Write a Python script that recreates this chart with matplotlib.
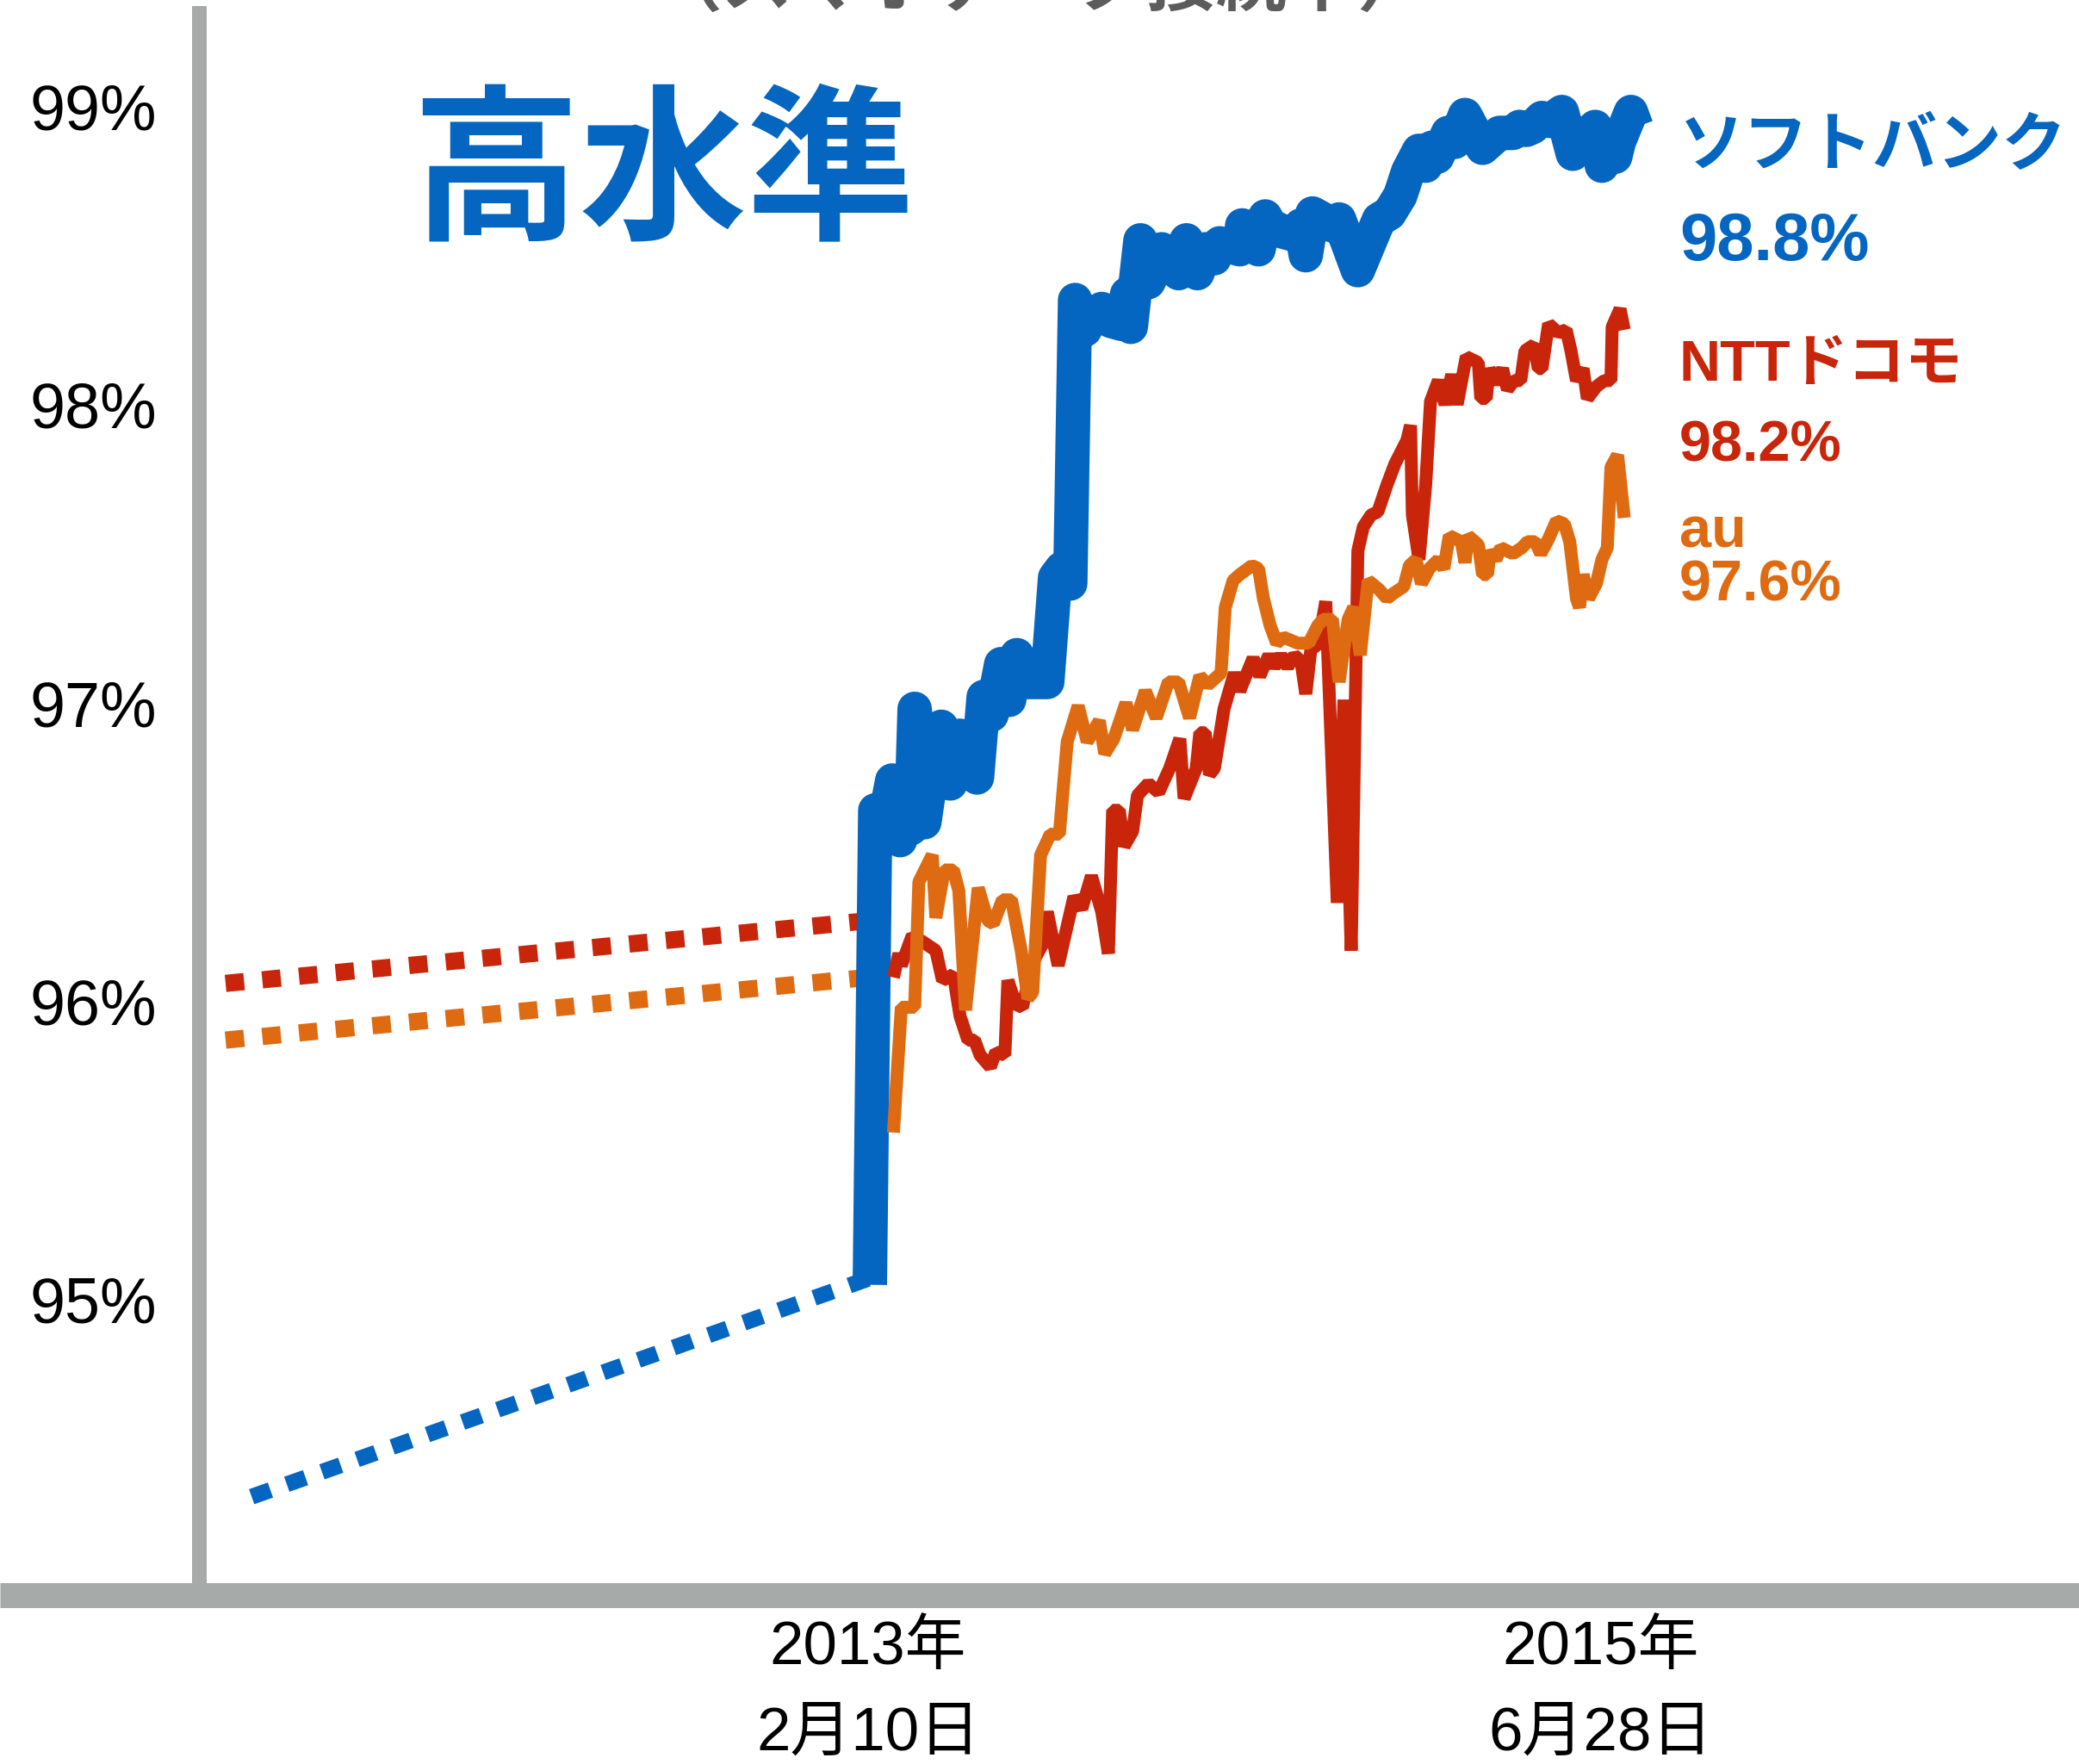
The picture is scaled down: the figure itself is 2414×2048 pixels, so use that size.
import matplotlib
matplotlib.use('Agg')
import matplotlib.pyplot as plt
import matplotlib.transforms as mtransforms
from matplotlib.lines import Line2D

# 週 (2013年2月10日 = 0) とデータ接続率 (%)
sb_w = [0.3, 1.2, 2.5, 4.0, 5.3, 6.6, 7.1, 7.7, 9.3, 10.6, 12.1, 13.6, 15.2, 16.7, 18.0,
        19.1, 20.4, 22.0, 23.3, 24.6, 25.7, 29.6, 30.9, 32.0, 33.4, 34.2, 35.8, 37.1, 38.6,
        40.1, 41.9, 42.8, 43.4, 45.0, 46.3, 47.8, 48.5, 51.3, 51.8, 52.6, 54.4, 55.7, 57.2,
        58.1, 61.4, 61.8, 63.6, 64.5, 65.6, 66.4, 68.4, 70.2, 71.5, 72.3, 73.4, 75.2, 76.7,
        77.8, 80.9, 84.4, 86.1, 87.9, 89.2, 91.0, 92.1, 93.1, 94.0, 95.8, 96.9, 98.6, 101.5,
        104.3, 106.5, 107.6, 108.7, 109.8, 111.3, 112.6, 114.6, 116.4, 117.5, 118.5, 119.4,
        120.1, 121.2, 122.1, 123.4, 124.0, 126.0, 126.9]
sb_v = [95.05, 96.64, 96.58, 96.74, 96.54, 96.72, 96.58, 96.98, 96.60, 96.78, 96.92, 96.73,
        96.89, 96.86, 96.75, 97.02, 96.96, 97.13, 97.01, 97.16, 97.07, 97.07, 97.42, 97.45,
        97.40, 98.35, 98.25, 98.30, 98.32, 98.28, 98.27, 98.37, 98.26, 98.55, 98.41, 98.47,
        98.52, 98.44, 98.49, 98.55, 98.44, 98.52, 98.49, 98.54, 98.52, 98.60, 98.56, 98.52,
        98.63, 98.60, 98.58, 98.57, 98.60, 98.50, 98.64, 98.62, 98.60, 98.62, 98.45, 98.62,
        98.64, 98.70, 98.78, 98.85, 98.80, 98.86, 98.83, 98.91, 98.88, 98.97, 98.86, 98.91,
        98.91, 98.93, 98.92, 98.93, 98.96, 98.95, 98.98, 98.84, 98.88, 98.91, 98.89, 98.93,
        98.80, 98.86, 98.83, 98.88, 98.98, 98.93]

docomo_w = [4.2, 5.1, 5.5, 7.3, 9.0, 11.2, 12.3, 14.1, 15.2, 16.5, 17.6, 18.5, 20.2, 21.1,
            22.6, 23.1, 24.4, 25.5, 27.2, 28.8, 29.6, 31.4, 34.0, 35.3, 36.9, 38.6, 39.7,
            40.4, 41.5, 42.3, 43.7, 44.5, 46.3, 48.0, 49.8, 51.5, 52.2, 54.2, 54.8, 55.7,
            56.4, 57.2, 58.8, 60.5, 61.4, 63.6, 64.7, 66.2, 67.1, 68.2, 69.3, 70.4, 71.5,
            72.3, 73.2, 74.3, 75.6, 77.5, 78.6, 79.8, 80.9, 81.8, 83.1, 84.2, 85.7, 87.0,
            89.0, 89.6, 89.9, 91.0, 92.1, 92.9, 94.2, 95.3, 96.4, 97.3, 98.8, 100.8, 101.2,
            102.1, 102.6, 103.7, 104.8, 105.6, 106.7, 107.8, 108.5, 110.0, 110.7, 111.3,
            112.4, 114.0, 115.3, 116.1, 117.0, 118.1, 118.8, 120.3, 121.6, 122.7, 122.9,
            124.2, 124.9]
docomo_v = [96.08, 96.16, 96.12, 96.22, 96.20, 96.17, 96.07, 96.09, 95.95, 95.87, 95.87,
            95.82, 95.78, 95.83, 95.82, 96.07, 95.99, 95.98, 96.13, 96.19, 96.30, 96.12,
            96.35, 96.31, 96.42, 96.30, 96.16, 96.64, 96.64, 96.52, 96.57, 96.69, 96.73,
            96.70, 96.78, 96.88, 96.68, 96.78, 96.90, 96.90, 96.76, 96.78, 96.98, 97.10,
            97.04, 97.15, 97.09, 97.16, 97.12, 97.16, 97.12, 97.16, 97.14, 97.03, 97.19,
            97.19, 97.34, 96.33, 97.01, 96.17, 97.51, 97.59, 97.63, 97.64, 97.73, 97.80,
            97.88, 97.93, 97.63, 97.48, 97.73, 98.01, 98.08, 98.00, 98.10, 98.00, 98.16,
            98.14, 98.02, 98.02, 98.12, 98.07, 98.12, 98.05, 98.08, 98.08, 98.18, 98.20,
            98.12, 98.12, 98.27, 98.24, 98.25, 98.18, 98.08, 98.12, 98.02, 98.06, 98.08,
            98.08, 98.26, 98.32, 98.25]

au_w = [4.2, 5.5, 7.7, 8.4, 10.6, 11.2, 12.6, 14.1, 15.0, 16.1, 18.2, 19.8, 20.7, 22.2,
        23.7, 25.3, 26.4, 27.2, 28.5, 30.1, 31.6, 32.9, 34.7, 36.2, 38.2, 39.1, 40.6, 42.6,
        43.7, 45.8, 47.6, 49.6, 51.3, 53.1, 54.8, 56.1, 58.3, 59.0, 60.3, 61.4, 63.4, 64.5,
        65.3, 66.4, 67.5, 68.6, 71.0, 72.8, 74.3, 75.2, 76.7, 77.8, 79.3, 80.2, 81.3, 82.6,
        84.4, 85.7, 87.0, 88.5, 89.4, 90.5, 91.4, 92.7, 94.2, 95.1, 96.0, 98.0, 98.6, 99.1,
        100.8, 101.5, 102.3, 102.8, 103.7, 104.5, 106.5, 108.0, 108.9, 110.2, 111.1, 112.4,
        113.7, 115.0, 115.9, 117.0, 117.5, 118.1, 119.0, 120.3, 121.2, 122.1, 122.7, 123.8,
        124.9]
au_v = [95.56, 95.98, 95.98, 96.40, 96.49, 96.28, 96.44, 96.44, 96.37, 95.97, 96.38, 96.27,
        96.26, 96.34, 96.34, 96.17, 96.01, 96.03, 96.49, 96.56, 96.56, 96.87, 96.99, 96.87,
        96.94, 96.83, 96.88, 97.00, 96.91, 97.04, 96.95, 97.07, 97.07, 96.95, 97.09, 97.06,
        97.10, 97.32, 97.41, 97.43, 97.46, 97.45, 97.35, 97.26, 97.20, 97.22, 97.20, 97.20,
        97.26, 97.28, 97.28, 97.07, 97.28, 97.32, 97.16, 97.41, 97.38, 97.35, 97.37, 97.39,
        97.46, 97.48, 97.40, 97.45, 97.48, 97.45, 97.56, 97.54, 97.47, 97.56, 97.53, 97.43,
        97.43, 97.51, 97.48, 97.52, 97.50, 97.52, 97.54, 97.54, 97.50, 97.55, 97.61, 97.60,
        97.54, 97.35, 97.32, 97.43, 97.35, 97.40, 97.48, 97.52, 97.79, 97.83, 97.62]

# 点線 (それ以前の値)
sb_prev_w = [-101.8, 0.0]
sb_prev_v = [94.34, 95.07]
docomo_prev_w = [-106.1, 0.0]
docomo_prev_v = [96.06, 96.27]
au_prev_w = [-106.1, 0.0]
au_prev_v = [95.87, 96.08]

y_ticks = [95, 96, 97, 98, 99]
y_labels = ['95%', '96%', '97%', '98%', '99%']
x_ticks = [0, 121]
x_labels_1 = ['2013年', '2015年']
x_labels_2 = ['2月10日', '6月28日']

BLUE = '#0466c0'
RED = '#c8250a'
ORANGE = '#de6b12'
AXIS_GRAY = '#a6aaa9'
TEXT_GRAY = '#5c5c5c'

W, H = 2414, 2048
DPI = 100
LATIN_CJK = ['Liberation Sans', 'Noto Sans CJK JP']


def pt(px):
    # ピクセル -> ポイント
    return px * 72 / DPI


fig = plt.figure(figsize=(W / DPI, H / DPI), dpi=DPI)
fig.patch.set_facecolor('white')

ax = fig.add_axes([231 / W, 1 - 1852 / H, 1 - 231 / W, (1852 - 15) / H])
ax.set_xlim(-110.5, 200)
ax.set_ylim(94.01, 99.312)
ax.set_facecolor('none')

# 点線
ax.plot(sb_prev_w, sb_prev_v, color=BLUE, lw=pt(18.5),
        linestyle=(0, (1.25, 1.09)), dash_capstyle='butt')
ax.plot(docomo_prev_w, docomo_prev_v, color=RED, lw=pt(20),
        linestyle=(0, (1.08, 1.06)), dash_capstyle='butt')
ax.plot(au_prev_w, au_prev_v, color=ORANGE, lw=pt(20),
        linestyle=(0, (1.08, 1.06)), dash_capstyle='butt')

# 実線
ax.plot(sb_w, sb_v, color=BLUE, lw=pt(40), solid_joinstyle='round',
        solid_capstyle='butt')
ax.plot(docomo_w, docomo_v, color=RED, lw=pt(15), solid_joinstyle='bevel',
        solid_capstyle='butt')
ax.plot(au_w, au_v, color=ORANGE, lw=pt(15), solid_joinstyle='bevel',
        solid_capstyle='butt')

# 軸
for side in ['top', 'right', 'bottom']:
    ax.spines[side].set_visible(False)
ax.spines['left'].set_color(AXIS_GRAY)
ax.spines['left'].set_linewidth(pt(17))
ax.set_yticks(y_ticks)
ax.set_yticklabels(y_labels, fontsize=53, family='Liberation Sans', color='black')
ax.tick_params(axis='y', length=0, pad=pt(49))
ax.set_xticks([])

fig.add_artist(Line2D([0, 1], [1 - 1852 / H, 1 - 1852 / H], transform=fig.transFigure,
                      color=AXIS_GRAY, lw=pt(29), solid_capstyle='butt'))

trans = mtransforms.blended_transform_factory(ax.transData, fig.transFigure)
for x, l1, l2 in zip(x_ticks, x_labels_1, x_labels_2):
    ax.text(x, 1 - 1914 / H, l1, transform=trans, ha='center', va='center',
            fontsize=51, family=LATIN_CJK, color='black')
    ax.text(x, 1 - 2014 / H, l2, transform=trans, ha='center', va='center',
            fontsize=51, family=LATIN_CJK, color='black')

# タイトル類
fig.text(1208 / W, 1 - 6 / H, '（スマホデータ接続率）', ha='center', va='baseline',
         fontsize=59, fontweight='bold', color=TEXT_GRAY, family='Noto Sans CJK JP')
fig.text(770 / W, 1 - 206 / H, '高水準', ha='center', va='center',
         fontsize=140, fontweight='bold', color=BLUE, family='Noto Sans CJK JP')

# 右側のラベル
lx = 1950 / W
fig.text(lx, 1 - 170 / H, 'ソフトバンク', ha='left', va='center', fontsize=54,
         fontweight='bold', color=BLUE, family='Noto Sans CJK JP')
fig.text(lx, 1 - 302 / H, '98.8%', ha='left', va='baseline', fontsize=56,
         fontweight='bold', color=BLUE, family='Liberation Sans')
fig.text(lx, 1 - 442 / H, 'NTTドコモ', ha='left', va='baseline', fontsize=48,
         fontweight='bold', color=RED, family=LATIN_CJK)
fig.text(lx, 1 - 536 / H, '98.2%', ha='left', va='baseline', fontsize=48,
         fontweight='bold', color=RED, family='Liberation Sans')
fig.text(lx, 1 - 636 / H, 'au', ha='left', va='baseline', fontsize=48,
         fontweight='bold', color=ORANGE, family='Liberation Sans')
fig.text(lx, 1 - 698 / H, '97.6%', ha='left', va='baseline', fontsize=48,
         fontweight='bold', color=ORANGE, family='Liberation Sans')

fig.savefig('out.png', dpi=DPI)
